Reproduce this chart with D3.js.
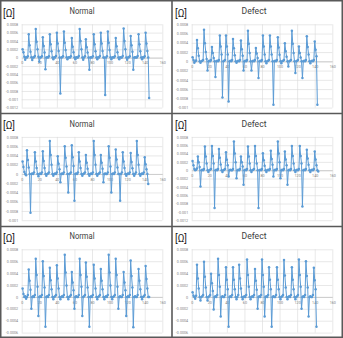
<!DOCTYPE html>
<html>
<head>
<meta charset="utf-8">
<script src="https://cdn.jsdelivr.net/npm/d3@7"></script>
<style>
body { margin: 0; background: #fff; }
</style>
</head>
<body>
<div id="chart-area"></div>
<script>
var UNIT = 0.0001;

var titles = ["Normal", "Defect", "Normal", "Defect", "Normal", "Defect"];

var normal1 = [2.0, 1.3, 0.2, -0.5, 0.1, 0, 0.3,
    5.6, 3.0, 1.4, 0.1, -0.6, 0, 0.1, 0.4,
    6.9, 3.8, 2.0, 0.2, -1.0, 0, 0.1, 0.3,
    4.9, 2.8, 1.2, -2.8, 0, 0.1, 0, 0.3,
    5.6, 3.2, 1.5, 0, -0.4, 0.1, 0, 0.4,
    6.0, 3.4, 1.6, 0, -8.6, 0, 0.1, 0.3,
    6.3, 3.6, 1.8, 0.1, -0.4, 0, 0.1, 0, 0.3,
    4.7, 2.6, 1.3, 0, -0.4, 0.1, 0, 0, 0.4,
    6.9, 4.0, 2.0, 0, -0.5, 0, 0.3,
    4.4, 2.5, 1.2, 0, -2.9, 0, 0.1, 0, 0.3,
    5.6, 3.2, 1.5, 0, -0.4, 0.1, 0, 0.4,
    6.0, 3.4, 1.6, 0, 0, -9.0, 0, 0.3,
    6.3, 3.6, 1.8, 0.1, -0.4, 0, 0.1, 0, 0.3,
    4.7, 2.7, 1.3, 0, -0.4, 0.1, 0, 0, 0.4,
    7.0, 4.0, 2.0, 0, -0.5, 0, 0.1, 0.3,
    5.2, 3.0, 1.4, -2.9, 0, 0.1, 0, 0, 0.4,
    5.6, 3.2, 1.5, 0, -0.4, 0.1, 0, 0.3,
    6.0, 3.4, 1.6, 0, -9.7];

var defect1 = [0.9, 0.3, -0.3, 0, 0.2,
    4.6, 2.8, 1.2, 0, -0.3, 0, 0.1, 0.3,
    6.8, 3.9, 2.0, 0.5, -2.0, 0, 0.1, 0, 0.3,
    3.1, 1.8, 0.7, 0, -3.4, 0, 0.1, 0, 0.3,
    5.6, 3.2, 1.5, -7.8, 0, 0.1, 0.3,
    5.6, 3.2, 1.5, -8.7, 0, 0.1, 0, 0.3,
    4.8, 2.8, 1.3, 0, -0.3, 0, 0.1, 0, 0.3,
    4.5, 2.6, 1.2, -2.0, 0, 0.1, 0, 0.3,
    6.6, 3.8, 1.8, 0, -2.0, 0, 0.1, 0, 0.3,
    2.9, 1.7, 0.7, -3.6, 0, 0.1, 0, 0.3,
    5.6, 3.2, 1.5, 0, -0.4, 0, 0.1, 0.3,
    5.6, 3.2, 1.5, 0, -9.4, 0, 0.1, 0, 0.3,
    5.2, 3.0, 1.4, 0, -0.4, 0, 0.1, 0.3,
    3.9, 2.2, 1.0, 0, -1.1, 0, 0.1, 0.3,
    6.6, 3.8, 1.8, 0, -2.5, 0, 0.1, 0.3,
    3.2, 1.8, 0.8, 0, -3.6, 0, 0.1, 0, 0.3,
    5.4, 3.1, 1.5, 0, -0.4, 0, 0.1, 0, 0.3,
    4.3, 2.5, 1.1, -9.4];

var normal2 = [2.7, 1.5, 0.4, 0, -0.3,
    5.1, 3.0, 1.4, 0, -8.4, 0, 0.1, 0, 0.3,
    4.7, 2.7, 1.3, 0, -0.5, 0, 0.1, 0, 0.3,
    4.9, 2.8, 1.3, 0, -0.4, 0, 0.1, 0.3,
    7.1, 4.1, 2.0, 0, -0.4, 0, 0.1, 0, 0.3,
    3.8, 2.2, 1.0, -1.8, 0, 0.1, 0, 0.3,
    6.0, 3.5, 1.6, 0, -4.0, 0, 0.1, 0.3,
    6.2, 3.6, 1.7, -5.8, 0, 0.1, 0, 0.3,
    4.7, 2.7, 1.3, 0, -0.4, 0, 0.1, 0.3,
    4.1, 2.4, 1.1, 0, -0.4, 0, 0.1, 0, 0.3,
    7.1, 4.1, 2.0, 0, -0.4, 0, 0.1, 0.3,
    4.1, 2.4, 1.1, -1.8, 0, 0.1, 0, 0, 0.3,
    6.0, 3.5, 1.6, -4.0, 0, 0.1, 0, 0.3,
    5.3, 3.1, 1.4, 0, 0, -5.8, 0, 0.3,
    4.7, 2.7, 1.3, 0, -0.4, 0, 0.1, 0, 0.3,
    4.5, 2.6, 1.2, 0, -0.4, 0, 0.3,
    7.1, 4.1, 2.0, 0, -0.4, 0, 0.1, 0, 0.3,
    3.6, 2.1, 1.0, 0, -2.2];

var defect2 = [2.2, 1.2, 0.3, 0, 0.1, 0.4,
    3.3, 1.9, 0.8, -3.9, 0, 0.1, 0, 0.3,
    5.7, 3.3, 1.6, 0, -0.4, 0, 0.1, 0.3,
    5.8, 3.4, 1.6, -9.1, 0, 0.1, 0, 0.3,
    5.1, 3.0, 1.4, 0, -0.4, 0, 0.1, 0.3,
    4.3, 2.5, 1.2, -1.5, 0, 0.1, 0, 0, 0.3,
    6.9, 4.0, 1.9, -1.9, 0, 0.1, 0, 0.3,
    3.3, 1.9, 0.9, -3.5, 0, 0.1, 0, 0.3,
    5.7, 3.3, 1.6, 0, -0.4, 0, 0.1, 0.3,
    5.8, 3.4, 1.6, 0, -9.1, 0, 0.1, 0, 0.3,
    4.1, 2.4, 1.1, 0, -0.4, 0, 0.1, 0, 0.3,
    4.7, 2.7, 1.3, -1.5, 0, 0.1, 0, 0.3,
    6.9, 4.0, 1.9, -1.9, 0, 0.1, 0, 0.3,
    4.5, 2.6, 1.2, -3.5, 0, 0.1, 0, 0.3,
    5.8, 3.4, 1.6, 0, -0.4, 0, 0.1, 0, 0.3,
    5.8, 3.4, 1.6, -8.7, 0, 0.1, 0, 0.3,
    4.9, 2.8, 1.3, 0, -0.4, 0, 0.1, 0, 0.3,
    4.5, 2.6, 1.2, 0, -0.3];

var normal3 = [1.4, 0.5, 0, 0.1, -0.3, 0, 0.3,
    4.6, 2.7, 1.2, -2.0, 0, 0.1, 0, 0.3,
    6.4, 3.7, 1.7, -3.2, 0, 0.1, 0, 0.3,
    6.0, 3.5, 1.6, -5.0, 0, 0.1, 0, 0.3,
    4.9, 2.8, 1.3, 0, -0.4, 0, 0.1, 0.3,
    5.3, 3.1, 1.4, 0, -0.4, 0, 0.1, 0, 0.3,
    7.1, 4.1, 1.9, 0, -0.4, 0, 0.1, 0.3,
    4.2, 2.4, 1.1, -2.0, 0, 0.1, 0, 0, 0.3,
    6.4, 3.7, 1.7, -3.2, 0, 0.1, 0.3,
    5.8, 3.4, 1.6, 0, -5.0, 0, 0.1, 0, 0.3,
    5.4, 3.1, 1.4, 0, -0.4, 0, 0.1, 0.3,
    4.7, 2.7, 1.3, 0, -0.4, 0, 0.1, 0, 0.3,
    7.1, 4.1, 1.9, 0, -0.4, 0, 0.1, 0.3,
    6.4, 3.7, 1.7, -2.0, 0, 0.1, 0, 0, 0.3,
    4.2, 2.4, 1.1, -3.2, 0, 0.1, 0, 0.3,
    6.1, 3.5, 1.6, -5.1, 0, 0.1, 0, 0, 0.3,
    4.7, 2.7, 1.3, 0, -0.4, 0, 0.1, 0.3,
    5.2, 3.0, 1.4, 0, 0];

var defect3 = [0.8, 0.2, 0, -0.3, 0.2,
    5.4, 3.1, 1.4, 0, -0.6, 0, 0.1, 0.3,
    5.9, 3.4, 1.6, 0, -0.6, 0, 0.1, 0.3,
    3.9, 2.3, 1.0, -2.1, 0, 0.1, 0, 0.3,
    6.4, 3.7, 1.7, -3.3, 0, 0.1, 0, 0, 0.3,
    5.0, 2.9, 1.3, -5.0, 0, 0.1, 0, 0.3,
    5.0, 2.9, 1.3, 0, -0.4, 0, 0.3,
    5.4, 3.1, 1.4, 0, -0.4, 0, 0.1, 0, 0.3,
    6.3, 3.7, 1.7, 0, -0.4, 0, 0.1, 0, 0.3,
    4.7, 2.7, 1.2, -2.0, 0, 0.1, 0, 0.3,
    6.3, 3.7, 1.7, -3.3, 0, 0.1, 0, 0.3,
    5.0, 2.9, 1.3, -5.0, 0, 0.1, 0, 0, 0.3,
    5.0, 2.9, 1.3, 0, -0.4, 0, 0.1, 0.3,
    6.2, 3.6, 1.6, 0, -0.4, 0, 0.1, 0, 0.3,
    5.0, 2.9, 1.3, 0, -0.4, 0, 0.1, 0.3,
    6.3, 3.7, 1.7, -2.0, 0, 0.1, 0, 0.3,
    6.0, 3.5, 1.6, -3.3, 0, 0.1, 0, 0, 0.3,
    4.9, 2.8, 1.3, -5.0];

var xTicks = [0, 20, 40, 60, 80, 100, 120, 140, 160];
var yTicksA = [0.0008, 0.0006, 0.0004, 0.0002, 0, -0.0002, -0.0004, -0.0006, -0.0008, -0.001, -0.0012];
var yTicksB = [0.0008, 0.0006, 0.0004, 0.0002, 0, -0.0002, -0.0004, -0.0006, -0.0008, -0.001];
var yTicksC = [0.0008, 0.0006, 0.0004, 0.0002, 0, -0.0002, -0.0004, -0.0006];

var series = [normal1, defect1, normal2, defect2, normal3, defect3];
var yTickSets = [yTicksA, yTicksB, yTicksB, yTicksA, yTicksC, yTicksC];

var width = 343;
var height = 338;
var colX = [0, 172];
var rowY = [0, 112.6, 225];
var plotLeft = [21.7, 19.7];
var plotW = 140.6;
var plotTop = 24.3, plotBot = 107.6;
var blue = "#5b9bd5";

var svg = d3.select("#chart-area")
    .append("svg")
        .attr("width", width)
        .attr("height", height);

var fmt = (d) => { return d === 0 ? "0" : String(+d.toFixed(4)); };

series.forEach((data, i) => {
    var col = i % 2, row = Math.floor(i / 2);
    var ticks = yTickSets[i];
    var g = svg.append("g")
        .attr("transform", "translate(" + colX[col] + ", " + rowY[row] + ")");

    var x = d3.scaleLinear()
        .domain([0, 160])
        .range([plotLeft[col], plotLeft[col] + plotW]);

    var y = d3.scaleLinear()
        .domain([ticks[0], ticks[ticks.length - 1]])
        .range([plotTop, plotBot]);

    // horizontal gridlines + y labels
    var yAxis = g.append("g")
        .attr("transform", "translate(" + plotLeft[col] + ", 0)")
        .call(d3.axisLeft(y).tickValues(ticks).tickSize(-plotW).tickPadding(3.5).tickFormat(fmt));
    yAxis.select(".domain").remove();
    yAxis.selectAll("line").attr("stroke", "#d9d9d9").attr("stroke-width", 0.6);
    yAxis.selectAll("text")
        .attr("fill", "#7f7f7f")
        .attr("font-size", "3.7px")
        .attr("font-family", "Roboto, sans-serif");

    // vertical gridlines
    var xGrid = g.append("g")
        .attr("transform", "translate(0, " + plotBot + ")")
        .call(d3.axisBottom(x).tickValues(xTicks).tickSize(-(plotBot - plotTop)).tickFormat(""));
    xGrid.select(".domain").remove();
    xGrid.selectAll("line").attr("stroke", "#d9d9d9").attr("stroke-width", 0.6);

    // x axis on zero line
    var xAxis = g.append("g")
        .attr("transform", "translate(0, " + y(0) + ")")
        .call(d3.axisBottom(x).tickValues(xTicks).tickSize(0).tickPadding(4));
    xAxis.select(".domain").attr("stroke", "#bfbfbf").attr("stroke-width", 0.7);
    xAxis.selectAll("text")
        .attr("fill", "#7f7f7f")
        .attr("font-size", "3.7px")
        .attr("font-family", "Roboto, sans-serif");

    var line = d3.line()
        .x((d, k) => { return x(k + 1); })
        .y((d) => { return y(d * UNIT); });

    g.append("path")
        .datum(data)
        .attr("fill", "none")
        .attr("stroke", blue)
        .attr("stroke-width", 1)
        .attr("d", line);

    g.selectAll("circle")
        .data(data)
        .enter()
        .append("circle")
            .attr("cx", (d, k) => { return x(k + 1); })
            .attr("cy", (d) => { return y(d * UNIT); })
            .attr("r", 1.25)
            .attr("fill", blue);

    g.append("text")
        .attr("x", 82)
        .attr("y", 14.3)
        .attr("text-anchor", "middle")
        .attr("font-size", "9.5px")
        .attr("font-family", "Roboto, sans-serif")
        .attr("fill", "#404040")
        .attr("textLength", 25)
        .attr("lengthAdjust", "spacingAndGlyphs")
        .text(titles[i]);

    g.append("text")
        .attr("x", 3)
        .attr("y", 16.5)
        .attr("font-size", "10px")
        .attr("font-family", "Roboto, sans-serif")
        .attr("fill", "#262626")
        .text("[Ω]");
});

// panel frames
svg.append("rect")
    .attr("x", 0.75).attr("y", 0.75)
    .attr("width", width - 1.5).attr("height", height - 1.5)
    .attr("fill", "none").attr("stroke", "#595959").attr("stroke-width", 1.5);
[113.5, 226.5].forEach((yy) => {
    svg.append("line")
        .attr("x1", 0).attr("x2", width).attr("y1", yy).attr("y2", yy)
        .attr("stroke", "#595959").attr("stroke-width", 1.6);
});
svg.append("line")
    .attr("x1", 172).attr("x2", 172).attr("y1", 0).attr("y2", height)
    .attr("stroke", "#595959").attr("stroke-width", 1.6);
</script>
</body>
</html>
